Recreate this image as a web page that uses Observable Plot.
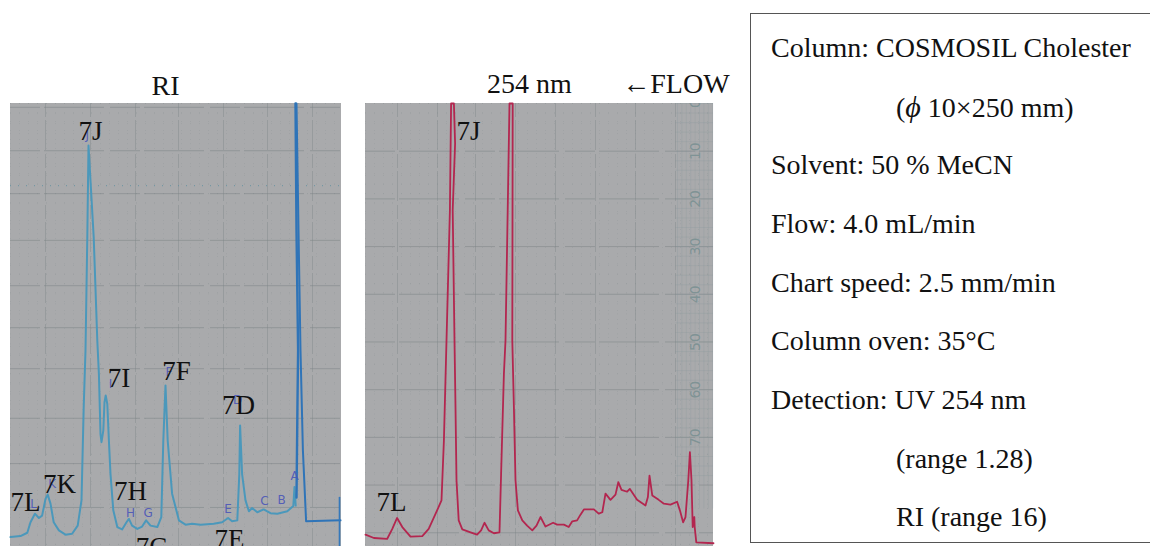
<!DOCTYPE html>
<html>
<head>
<meta charset="utf-8">
<script src="https://cdn.jsdelivr.net/npm/d3@7"></script>
<script src="https://cdn.jsdelivr.net/npm/@observablehq/plot@0.6"></script>
<style>
html,body{margin:0;padding:0;background:#fff;width:1150px;height:546px;overflow:hidden}
#c{position:relative;width:1150px;height:546px;font-family:"Liberation Serif",serif}
#c svg{position:absolute;top:0;overflow:hidden;background:transparent}
#c svg g[aria-label="rule"]{filter:blur(.5px)}
#c svg g[aria-label="line"]{filter:blur(.35px)}
#box{position:absolute;left:750px;top:13px;width:402px;height:530px;border:1.5px solid #555;box-sizing:border-box}
#box div{position:absolute;font-size:28px;line-height:28px;color:#111;white-space:nowrap}
#box i{font-size:30px}
</style>
</head>
<body>
<div id="c"></div>
<script>
// Paper units: x = chart travel (mm, right = injection side), y = pen reading on the printed scale (0 at top).
const riX = [0,2.5,4.2,5,6.1,7.1,7.9,8.75,9.3,10,10.8,12.1,13.75,15.4,16.8,17.75,18.3,18.75,19.2,19.5,20.8,21.7,22.1,22.5,22.75,23.2,23.5,23.8,24.2,24.6,25,25.7,26.7,27.9,29,29.6,30.4,31.7,32.9,33.9,35,36.7,37.7,38.2,38.75,39.3,40.4,42.1,43.75,45.4,47.5,50.8,52.9,54.4,55.4,56.7,57.2,57.4,57.9,58.75,59.6,60.4,61.7,63.3,65,66.7,69.2,70.7,71,71.3];
const riY = [90.9,90.7,90,87.8,86,86.9,86.4,82.9,82,83.9,87.8,89.5,90.4,90.2,88.5,83.2,63.7,51.8,28,8.8,28,49.7,56.7,69.3,71,68.6,62.6,61.2,63,70.7,77.7,85.3,88.8,89.3,87.8,87.1,88.5,89.2,88.7,87.4,88.5,88.8,86.7,70.7,59.1,70.7,81.8,87.4,88.3,88.1,88.3,88.1,87.8,86.9,87.6,87.4,77.7,67.5,77.7,83.2,85.5,84.8,85.7,85.1,85.9,86,85.5,84.4,80.4,84.3];
const frontUpX = [71.5,71.75,71.9,71.5,71.25];
const frontUpY = [82.6,62.3,51.8,26.6,0];
const frontDownX = [71.5,72,72.5,73.1,73.9,82.5];
const frontDownY = [0,26.6,51.8,72.7,87.6,87.4];
const riMarkerX = [82.25,82.25];
const riMarkerY = [82.6,92.9];

const uvX = [0,2.1,5.4,6.7,7.9,9.2,11.25,14.2,15.8,17.9,19,19.6,20.25,21.1,21.4,22.1,22.4,21.8,22.25,22.5,22.75,23.3,24.2,26.25,27.9,28.9,29.75,30.8,32.1,33.5,33.9,34.6,35,36,36.8,36.7,37.1,37.5,38.1,39.2,40.4,41.7,42.75,43.75,45,46.9,47.9,49.6,50.8,51.7,52.9,53.75,54.6,57.1,58.3,59.2,60,61.25,62.5,63.2,64,65.4,66.1,67.9,70,70.6,71,71.7,73.3,74.6,76.25,77.9,78.6,79.4,80,80.7,81.1,81.5,81.8,82.2,82.3,82.7,87];
const uvY = [90.4,91.1,91.3,89.2,86.9,88.8,90.8,90.7,89.2,85.3,83.2,70.7,49.7,22.4,0,0,8.4,22.4,49.7,63.7,79,87.4,89.3,89.9,90.4,89.5,87.9,89.5,90.1,89.9,77.7,56.7,49.7,0,0,49.7,63.7,79,85.3,87.4,88.5,89.5,88.5,86.7,88.7,87.9,88.3,88.3,88.8,87.6,87.4,86.2,85.1,85.1,86,85.7,81.8,83.1,82,79.4,81,81.4,80.8,83.1,84.3,82.5,78,82.2,83.1,83.9,84.1,83.5,85.3,87.8,86.7,79,73.1,79,88.8,86.7,88.8,92,92.2];

const riGridX = [8.75,20,31.25,42,53.25,64.25,75.5];
const riGridY = [0.8,9.9,18.9,28.7,38.2,47,55.6,66,75.5,84.7];
const riDottedY = [17.2];
const uvGridX = [8,18,27.5,37.5,47.5,57.5,67.5,77.5];
const uvGridY = [10,20,30,40,50,60,70,80,90];
const uvScaleTicks = [0,10,20,30,40,50,60,70];

const riLabels = ["7J","7I","7F","7D","7L","7K","7H","7C","7E"];
const riLabelX = [20,27.1,41.5,57,3.75,12.25,30,35.25,54.75];
const riLabelY = [5.9,57.7,56.2,63.3,83.6,79.9,81.3,93.1,91.4];
const riHand = ["J","L","K","I","F","D","H","G","E","C","B","A"];
const riHandX = [19.2,5.8,10.4,25,39.6,56.8,30,34.4,54.4,63.5,67.75,71];
const riHandY = [6.7,84.1,79.9,58.8,56.3,62.3,85.8,85.8,85,83.4,83.1,78.2];
const uvLabels = ["7J","7L"];
const uvLabelX = [25.75,6.5];
const uvLabelY = [5.9,83.6];

const titles = {ri:"RI", uv:"254 nm", flow:"←FLOW"};
const infoLines = ["Column: COSMOSIL Cholester","(<i>ϕ</i> 10×250 mm)","Solvent: 50 % MeCN","Flow: 4.0 mL/min","Chart speed: 2.5 mm/min","Column oven: 35°C","Detection: UV 254 nm","(range 1.28)","RI (range 16)"];
const infoIndent = [false,true,false,false,false,false,false,true,true];
const infoBaseline = [58,116.7,175.3,234,292.7,351.3,410,468.7,527.3];

const zip = (xs, ys) => xs.map((x, i) => ({x, y: ys[i]}));
const zipT = (ts, xs, ys) => ts.map((t, i) => ({t, x: xs[i], y: ys[i]}));
const paper = "#a9aaac", major = "#7b8385", minor = "#8f9396";
const serif = "Liberation Serif";

function panel({left, maxX, gridX, gridY, marks}) {
  const minorX = d3.range(0, maxX, 2.25), minorY = d3.range(0, 93, 2.1);
  const svg = Plot.plot({
    width: left.w, height: 546,
    marginLeft: left.ml, marginRight: left.w - left.ml - maxX * 4, marginTop: 103, marginBottom: 0,
    x: {domain: [0, maxX], axis: null},
    y: {domain: [92.88, 0], axis: null},
    style: {background: "transparent", overflow: "hidden"},
    marks: [
      Plot.rect([{}], {x1: 0, x2: maxX, y1: 0, y2: 92.88, fill: paper}),
      Plot.ruleX(minorX, {y1: 0, y2: 92.88, stroke: minor, strokeOpacity: 0.4, strokeWidth: 0.8, strokeDasharray: "1 8"}),
      Plot.ruleY(minorY, {x1: 0, x2: maxX, stroke: minor, strokeOpacity: 0.4, strokeWidth: 0.8, strokeDasharray: "1 8"}),
      Plot.ruleX(gridX, {y1: 0, y2: 92.88, stroke: major, strokeOpacity: 0.38, strokeWidth: 1, strokeDasharray: "14 3 30 4"}),
      Plot.ruleY(gridY, {x1: 0, x2: maxX, stroke: major, strokeOpacity: 0.5, strokeWidth: 1, strokeDasharray: "30 4 60 6"}),
      ...marks
    ]
  });
  svg.style.left = left.x + "px";
  document.getElementById("c").appendChild(svg);
}
const bigText = (rows, size = 27) => Plot.text(rows, {x: "x", y: "y", text: "t", fontFamily: serif, fontSize: size, fill: "#111", lineAnchor: "middle"});
const hand = rows => Plot.text(rows, {x: "x", y: "y", text: "t", fontFamily: "DejaVu Sans", fontSize: 12, fill: "#4a55b8", fillOpacity: 0.9, lineAnchor: "middle"});

panel({
  left: {x: 0, w: 350, ml: 10}, maxX: 82.75, gridX: riGridX, gridY: riGridY,
  marks: [
    Plot.ruleY(riDottedY, {x1: 0, x2: 82.75, stroke: "#5f8fa0", strokeOpacity: 0.7, strokeWidth: 1.2, strokeDasharray: "1 7"}),
    Plot.line(zip(riX, riY), {x: "x", y: "y", stroke: "#4b98bb", strokeWidth: 2, strokeLinejoin: "round"}),
    Plot.line(zip(frontUpX, frontUpY), {x: "x", y: "y", stroke: "#2f74b8", strokeWidth: 2.4}),
    Plot.line(zip(frontDownX, frontDownY), {x: "x", y: "y", stroke: "#2f74b8", strokeWidth: 2}),
    Plot.line(zip(riMarkerX, riMarkerY), {x: "x", y: "y", stroke: "#3478bb", strokeWidth: 1.6}),
    hand(zipT(riHand, riHandX, riHandY)),
    bigText(zipT(riLabels, riLabelX, riLabelY)),
    bigText([{t: titles.ri, x: 38.75, y: -3.6}], 28)
  ]
});

const stripeX = d3.range(78, 87, 1.1), stripeY = d3.range(0, 80, 2);
panel({
  left: {x: 360, w: 390, ml: 5}, maxX: 87, gridX: uvGridX, gridY: uvGridY,
  marks: [
    Plot.ruleX(stripeX, {y1: 0, y2: 85, stroke: "#84979a", strokeOpacity: 0.3, strokeWidth: 0.8}),
    Plot.ruleY(stripeY, {x1: 77.5, x2: 87, stroke: "#84979a", strokeOpacity: 0.3, strokeWidth: 0.8}),
    Plot.text(uvScaleTicks, {x: 82.5, y: d => d, text: d => String(d), rotate: -90, fontFamily: "DejaVu Sans", fontSize: 14, fill: "#7a9092", fillOpacity: 0.9, lineAnchor: "middle", clip: "frame"}),
    Plot.line(zip(uvX, uvY), {x: "x", y: "y", stroke: "#b3264f", strokeWidth: 1.8, strokeLinejoin: "round"}),
    bigText(zipT(uvLabels, uvLabelX, uvLabelY)),
    bigText([{t: titles.uv, x: 41, y: -4}], 28),
    bigText([{t: titles.flow, x: 77.6, y: -4}], 28)
  ]
});

const box = document.createElement("div");
box.id = "box";
infoLines.forEach((s, i) => {
  const d = document.createElement("div");
  d.innerHTML = s;
  d.style.left = (infoIndent[i] ? 145 : 20) + "px";
  d.style.top = (infoBaseline[i] - 14.5 - 23.5) + "px";
  box.appendChild(d);
});
document.getElementById("c").appendChild(box);
</script>
</body>
</html>
